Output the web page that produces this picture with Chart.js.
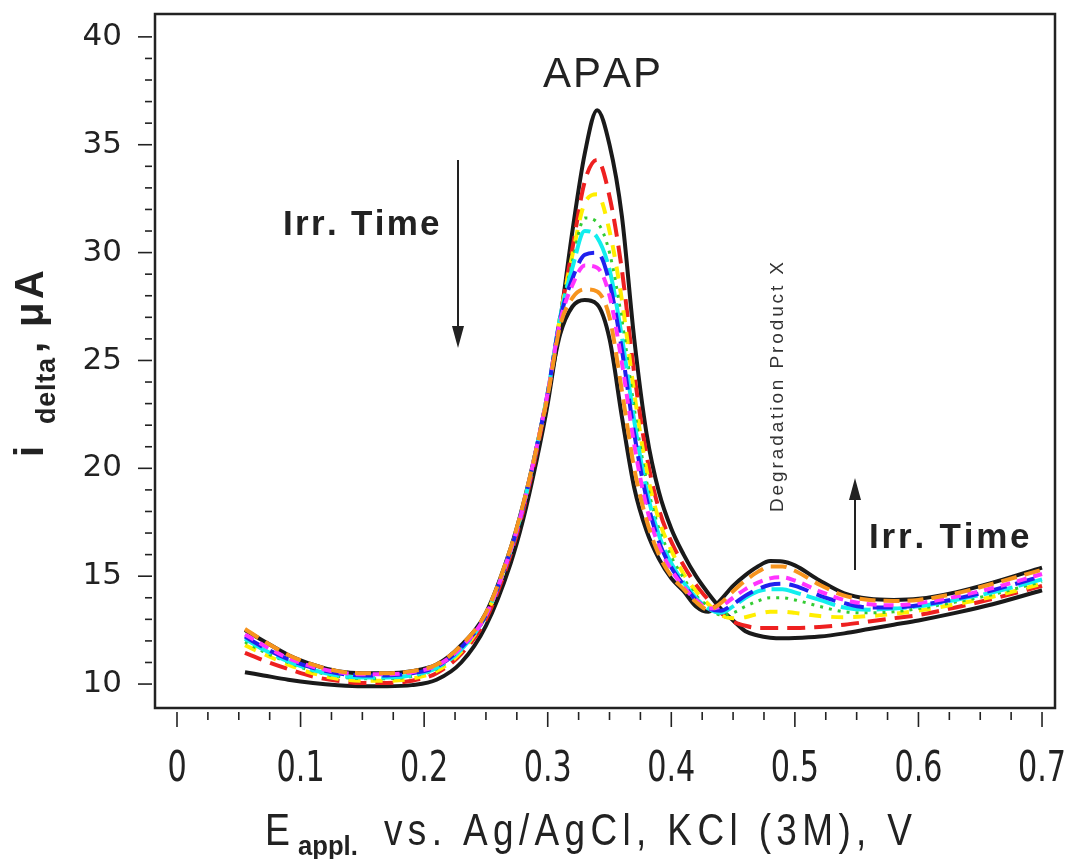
<!DOCTYPE html>
<html>
<head>
<meta charset="utf-8">
<script src="https://cdn.jsdelivr.net/npm/chart.js@4.4.1/dist/chart.umd.min.js"></script>
<style>
  body { margin: 0; background: #fff; }
  #wrap { width: 1065px; height: 859px; }
</style>
</head>
<body>
<div id="wrap"><canvas id="grafica" width="1065" height="859"></canvas></div>
<script>
// E applied (V)
const potenciales = [0.055, 0.07, 0.09, 0.11, 0.13, 0.15, 0.17, 0.19, 0.21, 0.23,
  0.25, 0.27, 0.28, 0.29, 0.30,
  0.31, 0.32, 0.33, 0.34, 0.35, 0.36, 0.37, 0.38, 0.39, 0.40, 0.41, 0.42, 0.43,
  0.44, 0.45, 0.46, 0.47, 0.48, 0.49, 0.50,
  0.52, 0.54, 0.56, 0.58, 0.60, 0.63, 0.66, 0.70];

// i delta (uA), one curve per irradiation time
const negro1 = [10.55, 10.4, 10.2, 10.05, 9.95, 9.9, 9.9, 9.95, 10.2, 11.0,
  12.7, 15.6, 17.6, 20.1, 23.0,
  26.8, 31.0, 34.6, 36.6, 35.0, 31.7, 26.0, 21.6, 18.9, 17.2, 16.0, 15.0, 14.2,
  13.5, 12.95, 12.45, 12.25, 12.15, 12.12, 12.13,
  12.2, 12.35, 12.55, 12.75, 12.95, 13.3, 13.7, 14.35];
const rojo = [11.45, 11.1, 10.7, 10.35, 10.15, 10.05, 10.05, 10.15, 10.5, 11.4,
  13.0, 16.0, 18.0, 20.5, 23.4,
  27.0, 30.2, 33.3, 34.3, 32.6, 29.2, 24.4, 20.6, 18.1, 16.6, 15.5, 14.6, 13.9,
  13.3, 12.9, 12.7, 12.6, 12.6, 12.6, 12.6,
  12.65, 12.75, 12.9, 13.05, 13.2, 13.55, 13.95, 14.55];
const amarillo = [11.8, 11.4, 10.9, 10.5, 10.25, 10.15, 10.15, 10.25, 10.6, 11.5,
  13.2, 16.2, 18.2, 20.7, 23.5,
  27.0, 29.9, 32.3, 32.7, 31.0, 27.8, 23.5, 19.9, 17.6, 16.2, 15.1, 14.3, 13.7,
  13.2, 13.05, 13.1, 13.25, 13.35, 13.35, 13.3,
  13.15, 13.1, 13.15, 13.25, 13.4, 13.7, 14.05, 14.65];
const verde = [11.95, 11.5, 11.0, 10.6, 10.35, 10.25, 10.25, 10.35, 10.7, 11.6,
  13.2, 16.2, 18.2, 20.7, 23.5,
  27.0, 29.6, 31.6, 31.4, 30.0, 26.9, 22.8, 19.4, 17.2, 15.9, 14.9, 14.1, 13.6,
  13.2, 13.3, 13.6, 13.85, 14.0, 14.0, 13.9,
  13.6, 13.35, 13.3, 13.35, 13.5, 13.8, 14.15, 14.75];
const cian = [12.1, 11.6, 11.05, 10.65, 10.4, 10.3, 10.3, 10.4, 10.75, 11.6,
  13.2, 16.2, 18.2, 20.7, 23.5,
  27.0, 29.3, 31.0, 30.7, 29.2, 26.1, 22.2, 19.0, 16.9, 15.6, 14.7, 14.0, 13.5,
  13.3, 13.6, 14.0, 14.3, 14.4, 14.4, 14.25,
  13.9, 13.55, 13.45, 13.5, 13.6, 13.9, 14.25, 14.85];
const azul = [12.2, 11.7, 11.15, 10.75, 10.5, 10.4, 10.4, 10.5, 10.8, 11.7,
  13.2, 16.2, 18.2, 20.7, 23.5,
  26.9, 28.8, 29.9, 30.0, 28.6, 25.5, 21.6, 18.6, 16.6, 15.4, 14.6, 13.9, 13.5,
  13.4, 13.7, 14.1, 14.4, 14.6, 14.65, 14.55,
  14.1, 13.75, 13.55, 13.55, 13.65, 13.95, 14.35, 15.0];
const magenta = [12.3, 11.8, 11.2, 10.8, 10.55, 10.45, 10.45, 10.55, 10.85, 11.7,
  13.2, 16.2, 18.2, 20.7, 23.5,
  26.8, 28.5, 29.4, 29.3, 28.0, 24.9, 21.1, 18.2, 16.4, 15.3, 14.5, 13.9, 13.5,
  13.6, 14.0, 14.4, 14.7, 14.9, 14.95, 14.8,
  14.3, 13.9, 13.7, 13.65, 13.75, 14.05, 14.45, 15.1];
const naranja = [12.55, 12.0, 11.35, 10.9, 10.6, 10.5, 10.5, 10.6, 10.9, 11.8,
  13.3, 16.3, 18.3, 20.7, 23.4,
  26.6, 27.9, 28.3, 28.2, 27.0, 23.6, 20.0, 17.6, 16.0, 15.0, 14.4, 13.8, 13.45,
  13.75, 14.3, 14.8, 15.2, 15.45, 15.45, 15.25,
  14.6, 14.1, 13.9, 13.85, 13.9, 14.2, 14.65, 15.3];
const negro2 = [12.5, 12.0, 11.35, 10.9, 10.6, 10.5, 10.5, 10.6, 10.9, 11.8,
  13.3, 16.3, 18.3, 20.7, 23.4,
  26.2, 27.5, 27.8, 27.6, 26.0, 22.4, 19.1, 17.1, 15.8, 14.9, 14.3, 13.6, 13.35,
  13.9, 14.55, 15.05, 15.45, 15.7, 15.68, 15.5,
  14.8, 14.2, 13.95, 13.9, 13.95, 14.25, 14.7, 15.4];

const ticksX = [0, 0.1, 0.2, 0.3, 0.4, 0.5, 0.6, 0.7];
const ticksY = [10, 15, 20, 25, 30, 35, 40];

const tinta = "#222";
const arial = "'Liberation Sans', Arial, sans-serif";

function serie(valores, color, dash, ancho, orden) {
  return {
    data: potenciales.map((e, i) => ({ x: e, y: valores[i] })),
    borderColor: color,
    borderDash: dash,
    borderWidth: ancho,
    pointRadius: 0,
    fill: false,
    cubicInterpolationMode: "monotone",
    order: orden
  };
}

// text spread out to a given width, drawn from x
function textoAncho(ctx, txt, x, y, ancho) {
  const natural = ctx.measureText(txt).width;
  const extra = (ancho - natural) / (txt.length - 1);
  let cx = x;
  for (const c of txt) {
    ctx.fillText(c, cx, y);
    cx += ctx.measureText(c).width + extra;
  }
}

// text squeezed horizontally, centred on x
function textoAngosto(ctx, txt, x, y, factor) {
  ctx.save();
  ctx.translate(x, y);
  ctx.scale(factor, 1);
  ctx.textAlign = "center";
  ctx.fillText(txt, 0, 0);
  ctx.restore();
}

function flecha(ctx, x, y0, y1) {
  const dir = y1 > y0 ? 1 : -1;
  ctx.beginPath();
  ctx.moveTo(x, y0);
  ctx.lineTo(x, y1 - dir * 18);
  ctx.stroke();
  ctx.beginPath();
  ctx.moveTo(x, y1);
  ctx.lineTo(x - 6, y1 - dir * 22);
  ctx.lineTo(x + 6, y1 - dir * 22);
  ctx.closePath();
  ctx.fill();
}

const marco = {
  id: "marco",
  afterDraw(chart) {
    const { ctx, chartArea: a, scales: { x, y } } = chart;
    ctx.save();
    ctx.strokeStyle = tinta;
    ctx.fillStyle = tinta;
    ctx.lineWidth = 2.5;
    ctx.strokeRect(a.left, a.top, a.right - a.left, a.bottom - a.top);

    // tick marks, outside the frame with a small gap
    ctx.lineWidth = 1.6;
    for (let k = 0; k <= 28; k++) {
      const px = x.getPixelForValue(k * 0.025);
      const largo = k % 4 === 0 ? 15 : 8;
      ctx.beginPath();
      ctx.moveTo(px, a.bottom + 4);
      ctx.lineTo(px, a.bottom + 4 + largo);
      ctx.stroke();
    }
    for (let v = 10; v <= 40; v++) {
      const py = y.getPixelForValue(v);
      const largo = v % 5 === 0 ? 14 : 7;
      ctx.beginPath();
      ctx.moveTo(a.left - 3, py);
      ctx.lineTo(a.left - 3 - largo, py);
      ctx.stroke();
    }

    // x tick labels in narrow digits
    ctx.textBaseline = "alphabetic";
    ctx.font = "42px 'DejaVu Sans', sans-serif";
    x.ticks.forEach(t => {
      const txt = String(Math.round(t.value * 10) / 10);
      textoAngosto(ctx, txt, x.getPixelForValue(t.value), 781, 0.72);
    });

    // x axis title with subscript
    ctx.textAlign = "left";
    ctx.font = "44px " + arial;
    ctx.save();
    ctx.translate(265, 845);
    ctx.scale(0.85, 1);
    ctx.fillText("E", 0, 0);
    ctx.restore();
    ctx.font = "bold 27px " + arial;
    ctx.save();
    ctx.translate(298, 855);
    ctx.scale(0.95, 1);
    ctx.fillText("appl.", 0, 0);
    ctx.restore();
    ctx.font = "44px " + arial;
    ctx.save();
    ctx.translate(384, 845);
    ctx.scale(0.84, 1);
    textoAncho(ctx, "vs. Ag/AgCl, KCl (3M), V", 0, 0, 528 / 0.84);
    ctx.restore();

    // y axis title, rotated
    ctx.save();
    ctx.translate(43, 457);
    ctx.rotate(-Math.PI / 2);
    ctx.font = "bold 40px " + arial;
    ctx.fillText("i", 0, 0);
    ctx.font = "bold 27px " + arial;
    textoAncho(ctx, "delta", 33, 12, 66);
    ctx.font = "bold 40px " + arial;
    ctx.fillText(",", 104, 0);
    textoAncho(ctx, "\u03bcA", 130, 0, 57);
    ctx.restore();

    // annotations
    ctx.font = "42px " + arial;
    textoAncho(ctx, "APAP", 543, 87, 115);
    ctx.font = "bold 35px " + arial;
    textoAncho(ctx, "Irr. Time", 283, 235, 154);
    textoAncho(ctx, "Irr. Time", 869, 548, 158);

    ctx.save();
    ctx.translate(783, 512);
    ctx.rotate(-Math.PI / 2);
    ctx.font = "19px " + arial;
    ctx.fillStyle = "#333";
    textoAncho(ctx, "Degradation Product X", 0, 0, 250);
    ctx.restore();

    ctx.lineWidth = 2;
    flecha(ctx, 458, 160, 348);
    flecha(ctx, 855, 570, 478);
    ctx.restore();
  }
};

const sinRelleno = s => {
  s.paddingLeft = 0;
  s.paddingRight = 0;
  s.paddingTop = 0;
  s.paddingBottom = 0;
};

const ctx = document.getElementById("grafica").getContext("2d");
new Chart(ctx, {
  type: "line",
  data: {
    datasets: [
      serie(naranja, "#f7941d", [16, 8], 4, 1),
      serie(magenta, "#ff33ff", [10, 7], 4, 1),
      serie(azul, "#2020ee", [20, 9], 4, 1),
      serie(cian, "#11eeee", [30, 6], 4, 1),
      serie(verde, "#33cc33", [3, 6], 3, 1),
      serie(amarillo, "#ffee00", [12, 10], 4, 1),
      serie(rojo, "#ee2020", [18, 9], 4, 1),
      serie(negro1, "#1a1a1a", [], 4, 2),
      serie(negro2, "#1a1a1a", [], 4, 2)
    ]
  },
  options: {
    responsive: false,
    animation: false,
    layout: { padding: { top: 14, right: 10, left: 0, bottom: 0 } },
    plugins: {
      legend: { display: false },
      tooltip: { enabled: false }
    },
    scales: {
      x: {
        type: "linear",
        min: -0.0178,
        max: 0.7105,
        afterFit: s => { s.height = 151; sinRelleno(s); },
        afterBuildTicks: s => { s.ticks = ticksX.map(v => ({ value: v })); },
        grid: { drawOnChartArea: false, drawTicks: false },
        border: { display: false },
        ticks: { display: false }
      },
      y: {
        min: 8.89,
        max: 41.06,
        afterFit: s => { s.width = 155; sinRelleno(s); },
        afterBuildTicks: s => { s.ticks = ticksY.map(v => ({ value: v })); },
        grid: { drawOnChartArea: false, drawTicks: false },
        border: { display: false },
        ticks: {
          padding: 33,
          color: tinta,
          font: { family: "'DejaVu Sans', sans-serif", size: 31 }
        }
      }
    }
  },
  plugins: [marco]
});
</script>
</body>
</html>
